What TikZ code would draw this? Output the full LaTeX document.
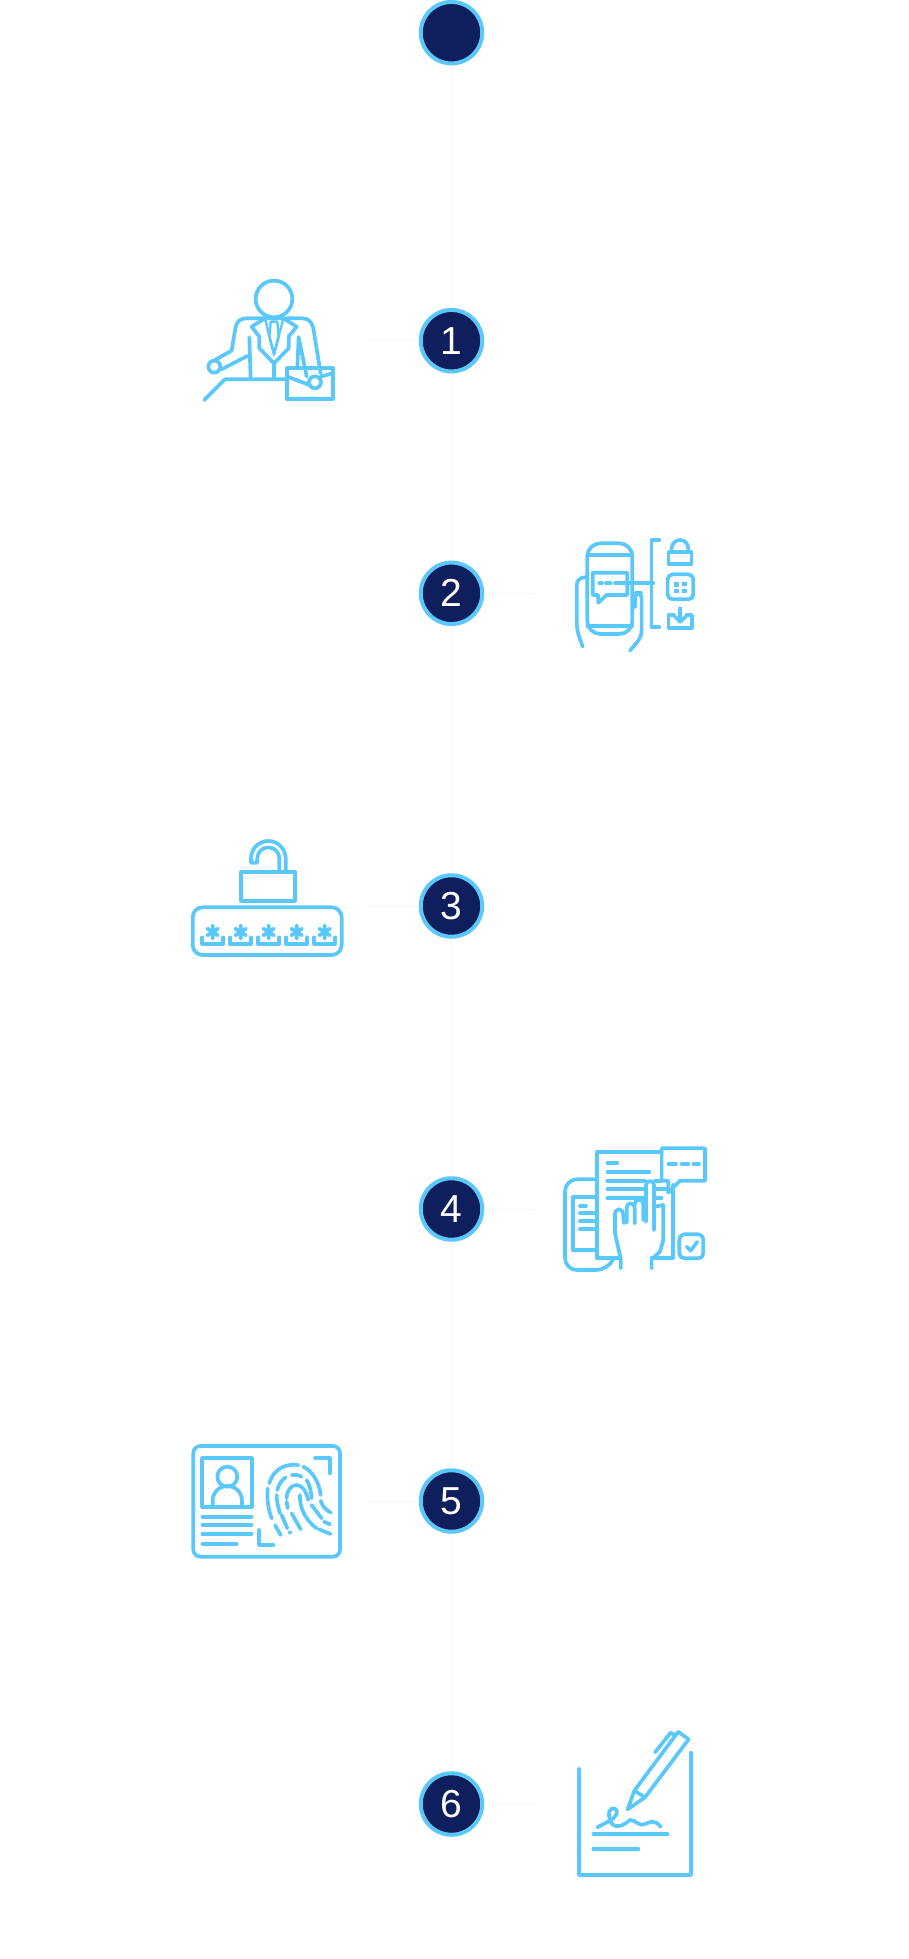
\documentclass[tikz,border=0pt]{standalone}
\usepackage{fontspec}
\setmainfont{Liberation Sans}
\definecolor{navy}{HTML}{0F1E5C}
\definecolor{sky}{HTML}{5BC8FB}
\definecolor{faint}{HTML}{F5F7FA}
\pgfdeclarelayer{background}
\pgfsetlayers{background,main}

\begin{document}
\begin{tikzpicture}[
	x=1pt,y=-1pt,
	roundnode/.style={circle, draw=sky, line width=4pt, fill=navy, text=white, inner sep=0pt, minimum size=61.5pt, font=\fontsize{39}{39}\selectfont},
	thread/.style={draw=faint, line width=1pt},
	icon/.style={draw=sky, line width=3.7pt, line cap=round, line join=round},
	zoomed/.style 2 args={shift={(#1,#2)},x=0.3333pt,y=-0.3333pt},
	]
	\useasboundingbox (0,0) rectangle (908,1959);
	%Nodes
	\node[roundnode]      (n0) 	at 	(451.5,32.7)       {};
	\node[roundnode]      (n1) 	at 	(451.5,340.7)      {1};
	\node[roundnode]      (n2) 	at 	(451.5,593.3)      {2};
	\node[roundnode]      (n3) 	at 	(451.5,906)        {3};
	\node[roundnode]      (n4) 	at 	(451.5,1209)       {4};
	\node[roundnode]      (n5) 	at 	(451.5,1501)       {5};
	\node[roundnode]      (n6) 	at 	(451.5,1804)       {6};
	\coordinate (stub1) at (367,340.7);
	\coordinate (stub2) at (535,593.3);
	\coordinate (stub3) at (367,906);
	\coordinate (stub4) at (535,1209);
	\coordinate (stub5) at (367,1501);
	\coordinate (stub6) at (535,1804);

	\begin{pgfonlayer}{background}
	\draw[thread] (n0) -- (n1);
	\draw[thread] (n1) -- (n2);
	\draw[thread] (n2) -- (n3);
	\draw[thread] (n3) -- (n4);
	\draw[thread] (n4) -- (n5);
	\draw[thread] (n5) -- (n6);
	\draw[thread] (n1) -- (stub1);
	\draw[thread] (n2) -- (stub2);
	\draw[thread] (n3) -- (stub3);
	\draw[thread] (n4) -- (stub4);
	\draw[thread] (n5) -- (stub5);
	\draw[thread] (n6) -- (stub6);
	\end{pgfonlayer}

	%Icon 1
	\begin{scope}[zoomed={150}{0}]
	\draw[icon] (372,897) circle (55);
	\draw[icon] (193,1100) circle (18);
	\draw[icon] (495,1147) circle (18);
	\draw[icon] (195,1080) -- (245,1052) -- (256,985) .. controls (260,965) and (270,955) .. (290,955) -- (455,955) .. controls (475,955) and (485,965) .. (490,985) -- (512,1120);
	\draw[icon] (215,1108) -- (292,1068);
	\draw[icon] (298,1012) -- (302,1138);
	\draw[icon] (163,1200) -- (225,1138) -- (410,1138);
	\draw[icon] (372,1090) -- (372,1138);
	\draw[icon] (345,955) -- (305,980) -- (328,1010) -- (328,1045) -- (372,1090) -- (416,1045) -- (416,1010) -- (440,980) -- (400,955);
	\draw[icon,line width=2.4pt] (345,955) -- (372,1065) -- (400,955);
	\draw[icon,line width=2.4pt] (362,965) -- (382,965) -- (386,1010) -- (372,1060) -- (358,1010) -- cycle;
	\draw[icon] (446,1012) -- (442,1105);
	\draw[icon] (446,1012) -- (470,1130);
	\draw[icon] (410,1105) rectangle (550,1198);
	\draw[icon] (412,1130) -- (478,1155);
	\draw[icon] (512,1130) -- (548,1120);
	\end{scope}

	%Icon 2
	\begin{scope}[zoomed={400}{520}]
	\draw[icon,rounded corners=13pt] (562,70) rectangle (697,342);
	\draw[icon] (562,105) -- (697,105);
	\draw[icon] (562,318) -- (697,318);
	\draw[icon,fill=white] (578,158) -- (682,158) -- (682,225) -- (620,225) -- (595,248) -- (595,225) -- (578,225) -- cycle;
	\draw[icon] (598,190) -- (606,190);
	\draw[icon] (618,190) -- (632,190);
	\draw[icon] (645,190) -- (760,190);
	\draw[icon] (778,60) -- (755,60) -- (755,322) -- (778,322);
	\draw[icon,rounded corners=8pt] (548,380) -- (530,330) -- (530,172) -- (560,172);
	\draw[icon,rounded corners=6pt] (690,392) -- (725,350) -- (725,218) -- (705,218) -- (705,262);
	\draw[icon] (815,97) -- (815,85) arc (180:360:25) -- (865,97);
	\draw[icon] (806,97) rectangle (875,133);
	\draw[icon,rounded corners=5pt] (803,163) rectangle (880,238);
	\fill[sky] (822,186) rectangle (836,200);
	\fill[sky] (846,186) rectangle (860,198);
	\fill[sky] (822,206) rectangle (836,220);
	\fill[sky] (846,206) rectangle (860,220);
	\draw[icon] (822,285) -- (806,285) -- (806,323) -- (876,323) -- (876,285) -- (860,285);
	\draw[icon] (841,265) -- (841,305);
	\draw[icon] (825,290) -- (841,305) -- (857,290);
	\end{scope}

	%Icon 3
	\begin{scope}[zoomed={170}{820}]
	\draw[icon] (214,155) rectangle (376,242);
	\draw[icon] (347,152) -- (347,115) arc (360:180:52) -- (243,128) -- (262,128) -- (262,115) arc (180:360:33) -- (328,152);
	\draw[icon,rounded corners=10pt] (68,262) rectangle (515,405);
	\draw[icon] (97,352) -- (97,372) -- (160,372) -- (160,352);
	\draw[icon] (181,352) -- (181,372) -- (244,372) -- (244,352);
	\draw[icon] (265,352) -- (265,372) -- (328,372) -- (328,352);
	\draw[icon] (349,352) -- (349,372) -- (412,372) -- (412,352);
	\draw[icon] (433,352) -- (433,372) -- (496,372) -- (496,352);
	\draw[icon] (128,316) -- ++(0,40) (112,326) -- ++(32,20) (112,346) -- ++(32,-20);
	\draw[icon] (212,316) -- ++(0,40) (196,326) -- ++(32,20) (196,346) -- ++(32,-20);
	\draw[icon] (296,316) -- ++(0,40) (280,326) -- ++(32,20) (280,346) -- ++(32,-20);
	\draw[icon] (380,316) -- ++(0,40) (364,326) -- ++(32,20) (364,346) -- ++(32,-20);
	\draw[icon] (464,316) -- ++(0,40) (448,326) -- ++(32,20) (448,346) -- ++(32,-20);
	\end{scope}

	%Icon 4
	\begin{scope}[zoomed={400}{1130}]
	\draw[icon,rounded corners=12pt] (590,148) -- (495,148) -- (495,420) -- (625,420) -- (638,392);
	\draw[icon] (518,202) rectangle (590,360);
	\draw[icon] (540,228) -- (558,228);
	\draw[icon] (540,250) -- (590,250);
	\draw[icon] (540,272) -- (590,272);
	\draw[icon] (540,296) -- (590,296);
	\draw[icon] (655,385) -- (590,385) -- (590,65) -- (785,65);
	\draw[icon] (820,165) -- (820,385) -- (755,385);
	\draw[icon] (785,55) -- (915,55) -- (915,152) -- (840,152) -- (805,188) -- (805,152) -- (785,152) -- cycle;
	\draw[icon] (805,102) -- (828,102);
	\draw[icon] (845,102) -- (865,102);
	\draw[icon] (880,102) -- (897,102);
	\draw[icon] (622,100) -- (652,100);
	\draw[icon] (622,126) -- (748,126);
	\draw[icon] (622,152) -- (735,152);
	\draw[icon] (622,177) -- (735,177);
	\draw[icon] (622,203) -- (735,203);
	\draw[icon] (765,152) -- (785,152);
	\draw[icon] (770,178) -- (798,178);
	\draw[icon] (770,203) -- (785,203);
	\draw[icon] (738,275) -- (738,165) arc (180:360:12) -- (762,300);
	\draw[icon] (662,415) -- (662,385) -- (645,310) -- (645,250) arc (180:360:12) -- (672,280);
	\draw[icon] (680,278) -- (680,232) arc (180:360:12) -- (704,280);
	\draw[icon] (704,225) -- (704,222) arc (180:360:13) -- (730,270);
	\draw[icon] (765,230) -- (790,225) -- (790,330) -- (780,365) -- (755,388) -- (755,415);
	\draw[icon,rounded corners=5pt] (838,313) rectangle (910,385);
	\draw[icon] (860,350) -- (872,362) -- (892,335);
	\end{scope}

	%Icon 5
	\begin{scope}[zoomed={170}{1430}]
	\draw[icon,rounded corners=7pt] (70,48) rectangle (510,380);
	\draw[icon] (97,85) rectangle (245,230);
	\draw[icon] (172,140) circle (30);
	\draw[icon] (128,226) -- (128,212) arc (180:360:44) -- (216,226);
	\draw[icon] (97,260) -- (245,260);
	\draw[icon] (97,285) -- (245,285);
	\draw[icon] (97,313) -- (245,313);
	\draw[icon] (97,342) -- (200,342);
	\draw[icon] (435,85) -- (480,85) -- (480,130);
	\draw[icon] (267,300) -- (267,345) -- (310,345);
	\draw[icon] (298,160) .. controls (310,115) and (350,100) .. (385,105);
	\draw[icon] (400,110) .. controls (430,125) and (448,160) .. (452,195);
	\draw[icon] (452,212) .. controls (460,235) and (470,240) .. (483,248);
	\draw[icon] (293,175) .. controls (290,205) and (295,240) .. (305,265);
	\draw[icon] (315,285) -- (332,315);
	\draw[icon] (322,180) .. controls (325,165) and (335,150) .. (347,142);
	\draw[icon] (365,135) .. controls (375,133) and (385,135) .. (395,140);
	\draw[icon] (410,150) .. controls (420,165) and (423,185) .. (425,205);
	\draw[icon] (320,195) .. controls (320,215) and (325,235) .. (330,250);
	\draw[icon] (335,255) -- (352,295);
	\draw[icon] (360,307) -- (360,308);
	\draw[icon] (350,205) .. controls (350,180) and (365,165) .. (380,165) .. controls (400,165) and (410,190) .. (415,210);
	\draw[icon] (350,215) -- (353,235);
	\draw[icon] (365,250) -- (392,298);
	\draw[icon] (390,195) .. controls (388,230) and (405,270) .. (440,295);
	\draw[icon] (425,225) -- (455,265);
	\draw[icon] (462,275) -- (480,283);
	\draw[icon] (447,298) -- (482,312);
	\end{scope}

	%Icon 6
	\begin{scope}[zoomed={400}{1720}]
	\draw[icon] (537,147) -- (537,465) -- (873,465) -- (873,98);
	\draw[icon] (580,342) -- (803,342);
	\draw[icon] (580,388) -- (715,388);
	\draw[icon] (703,212) -- (835,35) -- (866,58) -- (735,232) -- (683,268) -- cycle;
	\draw[icon] (703,212) -- (735,232);
	\draw[icon] (765,97) -- (812,38) -- (825,45);
	\draw[icon] (592,322) .. controls (610,312) and (625,305) .. (640,295) .. controls (660,275) and (650,262) .. (635,266) .. controls (620,272) and (628,300) .. (635,310) .. controls (650,328) and (672,315) .. (690,300) .. controls (705,298) and (715,320) .. (735,312) .. controls (750,308) and (760,295) .. (782,320);
	\end{scope}
\end{tikzpicture}
\end{document}
